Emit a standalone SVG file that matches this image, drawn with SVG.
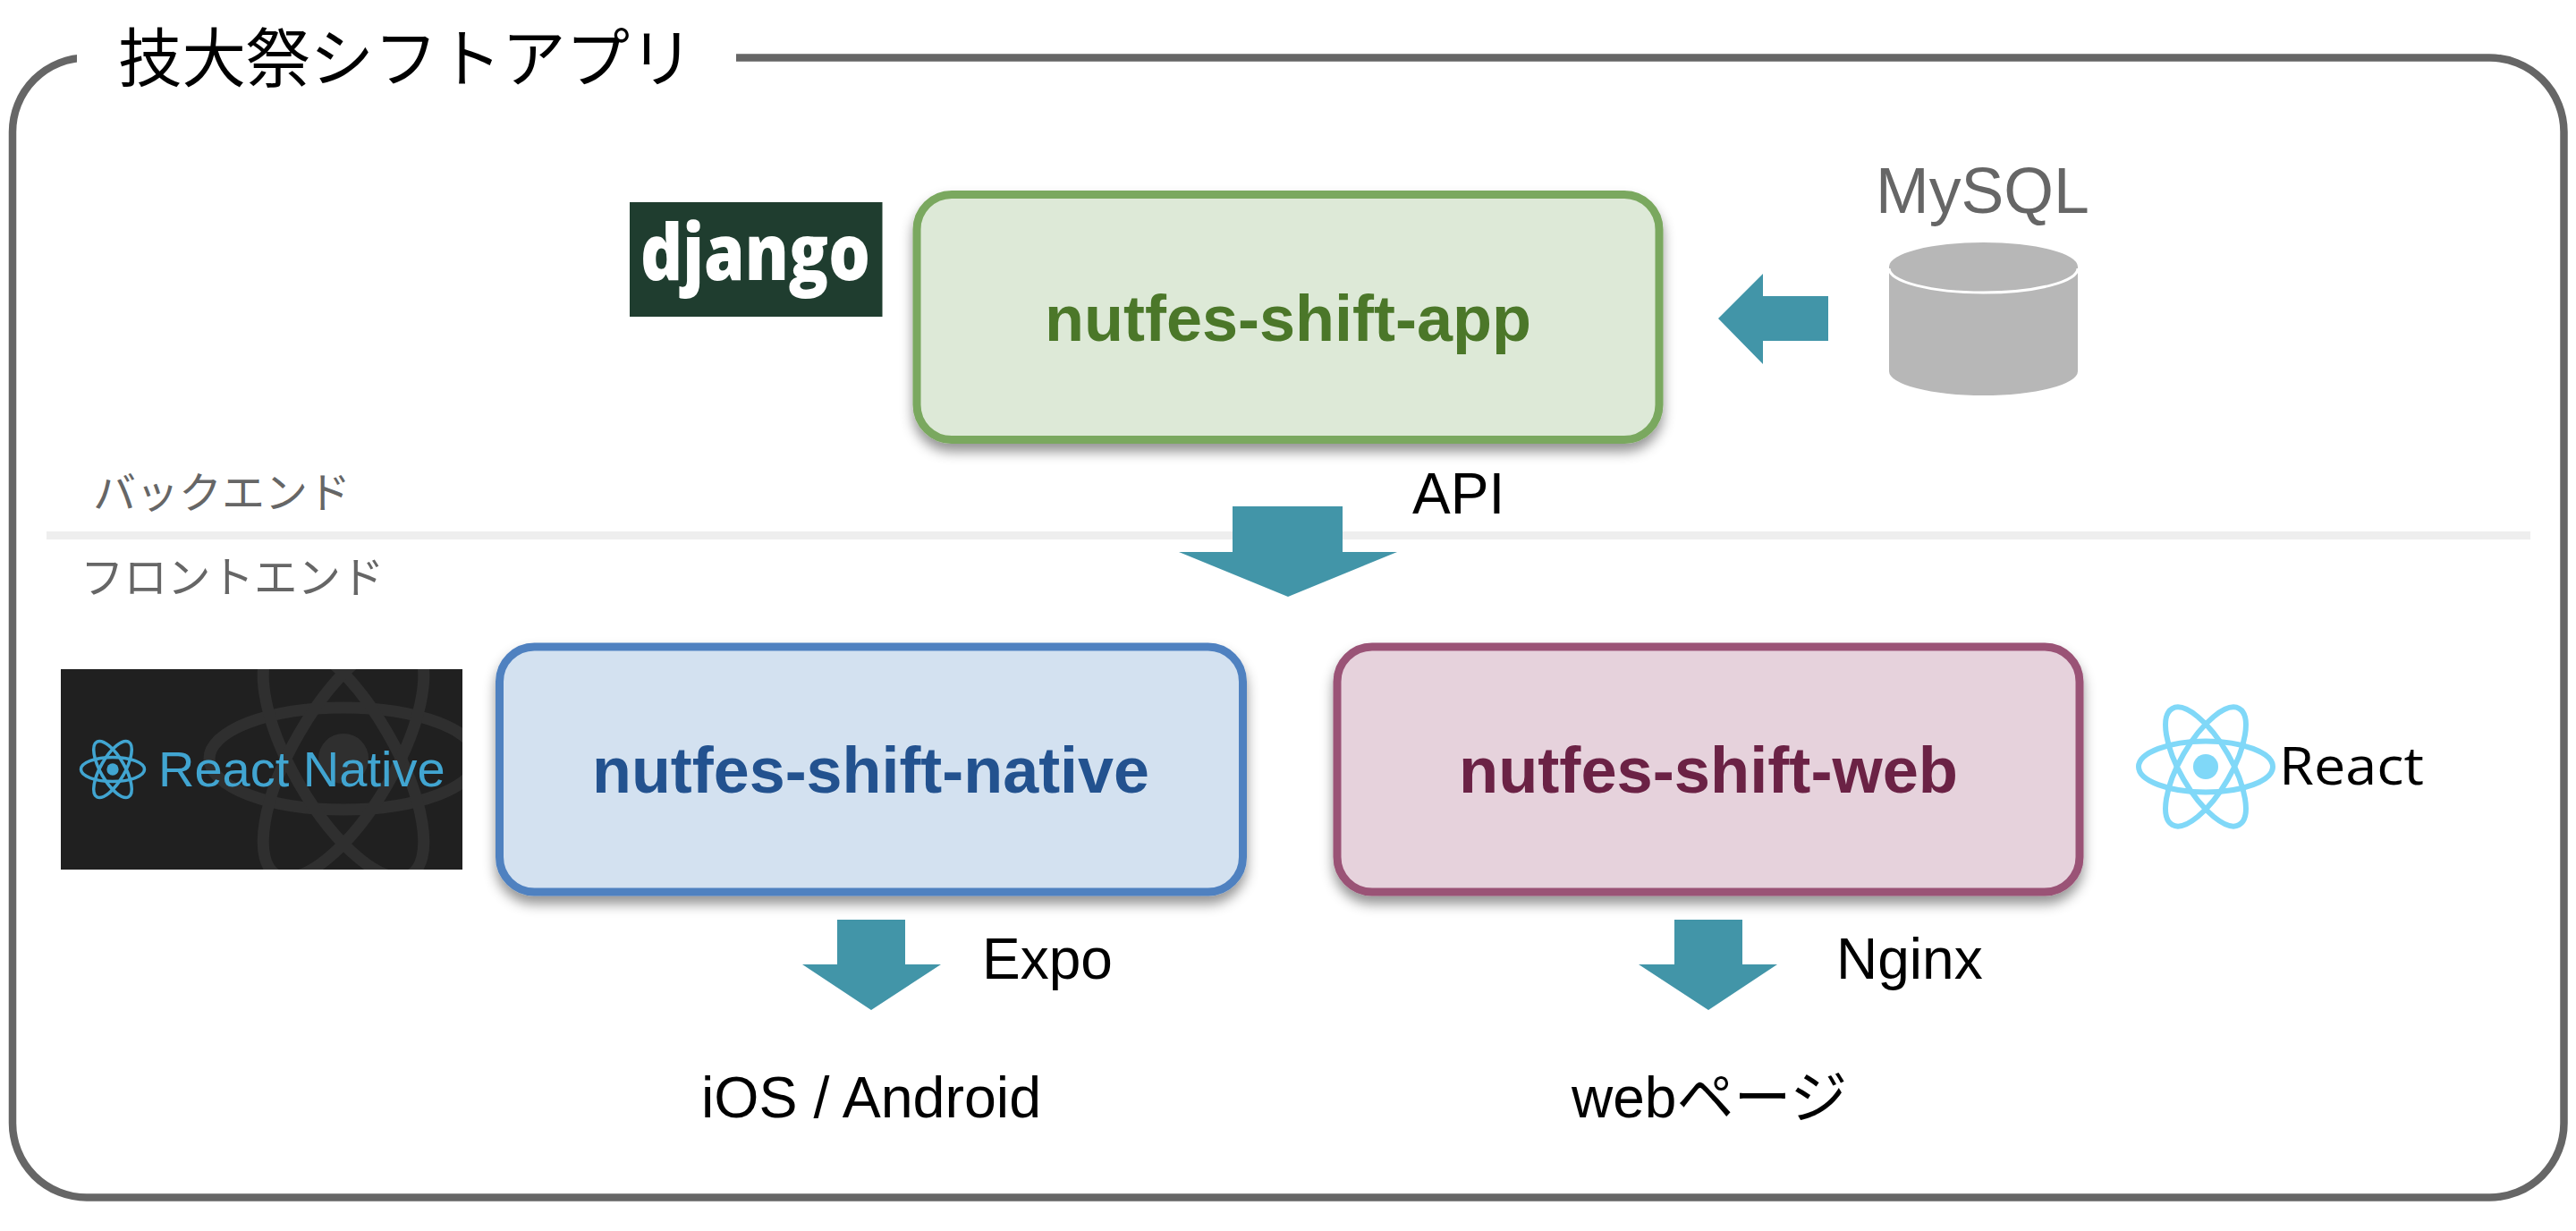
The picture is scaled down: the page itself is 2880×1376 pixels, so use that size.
<svg xmlns="http://www.w3.org/2000/svg" xmlns:xlink="http://www.w3.org/1999/xlink" width="2880" height="1376" viewBox="0 0 2880 1376">
<style>
.sans{font-family:"Liberation Sans",Arial,sans-serif}
.jp{font-family:"Noto Sans CJK JP","Noto Sans CJK SC",sans-serif}
.lbl{font-family:"Liberation Sans","Noto Sans CJK JP",sans-serif;font-size:64px;fill:#000}
.section{font-family:"Noto Sans CJK JP",sans-serif;font-size:48px;fill:#666;font-weight:400}
.box{stroke-width:9;filter:url(#shadow)}
.name{font-family:"Liberation Sans",Arial,sans-serif;font-weight:700;font-size:72px}
.arrow{fill:#4295a8}
.orbit{fill:none}
</style>
<defs>
<filter id="shadow" x="-10%" y="-15%" width="120%" height="135%">
<feDropShadow dx="0" dy="9" stdDeviation="7" flood-color="#000" flood-opacity="0.42"/>
</filter>
<clipPath id="rnclip"><rect x="68" y="748" width="449" height="224"/></clipPath>
<g id="orbits">
<ellipse class="orbit" rx="100" ry="38"/>
<ellipse class="orbit" rx="100" ry="38" transform="rotate(60)"/>
<ellipse class="orbit" rx="100" ry="38" transform="rotate(-60)"/>
<circle r="18.7" stroke="none"/>
</g>
</defs>
<rect width="2880" height="1376" fill="#fff"/>
<g id="frame">
<rect x="14" y="64.5" width="2852.5" height="1274" rx="83" ry="83" fill="none" stroke="#666" stroke-width="8.5"/>
<rect x="86" y="40" width="737" height="50" fill="#fff"/>
<text x="132" y="91" class="jp" font-size="71.5" font-weight="400" fill="#000">技大祭シフトアプリ</text>
</g>
<g id="divider">
<rect x="52" y="594" width="2777" height="9" fill="#eeeeee"/>
<text x="104" y="568" class="section">バックエンド</text>
<text x="90" y="663" class="section" style="font-size:48.5px">フロントエンド</text>
</g>
<g id="django-logo">
<rect x="704" y="226" width="282.5" height="128" fill="#1f3d2f"/>
<text x="716" y="313" font-family="'Open Sans',sans-serif" font-weight="800" font-size="86" fill="#fff" textLength="257" lengthAdjust="spacingAndGlyphs">django</text>
</g>
<g id="nutfes-shift-app">
<rect class="box" x="1025" y="217.5" width="830" height="274" rx="39" ry="39" fill="#dde9d7" stroke="#7aa85e"/>
<text class="name" x="1168" y="381" fill="#4b7729" textLength="544" lengthAdjust="spacingAndGlyphs">nutfes-shift-app</text>
</g>
<g id="mysql">
<text x="2097" y="238" class="sans" font-size="71.6" fill="#666">MySQL</text>
<path d="M2112 298V415A105.5 27 0 0 0 2323 415V298Z" fill="#b7b7b7"/>
<ellipse cx="2217.5" cy="298" rx="105.5" ry="27" fill="#b7b7b7"/>
<path d="M2112 300A105.5 27 0 0 0 2323 300" fill="none" stroke="#fff" stroke-width="3"/>
</g>
<g id="connectors">
<polygon class="arrow" points="2044,331 1971,331 1971,306 1921,356 1971,407 1971,381 2044,381"/>
<polygon class="arrow" points="1378,566 1501,566 1501,617 1562,617 1440,667 1318,617 1378,617"/>
<polygon class="arrow" points="936,1028 1012,1028 1012,1078 1052,1078 974,1129 897,1078 936,1078"/>
<polygon class="arrow" points="1872,1028 1948,1028 1948,1078 1987,1078 1910,1129 1832,1078 1872,1078"/>
<text class="lbl" x="1579" y="574">API</text>
<text class="lbl" x="1098" y="1094">Expo</text>
<text class="lbl" x="2053" y="1094">Nginx</text>
</g>
<g id="react-native-logo">
<rect x="68" y="748" width="449" height="224" fill="#202020"/>
<g clip-path="url(#rnclip)">
<use xlink:href="#orbits" href="#orbits" transform="translate(384 848) scale(1.5)" stroke="#2f2f2f" fill="#2f2f2f" stroke-width="8.7"/>
</g>
<use xlink:href="#orbits" href="#orbits" transform="translate(126 860) scale(0.355)" stroke="#41a5d1" fill="#41a5d1" stroke-width="10"/>
<text x="177" y="879" class="sans" font-size="56" fill="#41a5d1">React Native</text>
</g>
<g id="nutfes-shift-native">
<rect class="box" x="558.5" y="723" width="831" height="274" rx="39" ry="39" fill="#d3e1f0" stroke="#4f81c0"/>
<text class="name" x="662" y="886" fill="#23528f" textLength="623" lengthAdjust="spacingAndGlyphs">nutfes-shift-native</text>
</g>
<g id="nutfes-shift-web">
<rect class="box" x="1495" y="723" width="830" height="274" rx="39" ry="39" fill="#e6d2dc" stroke="#9a5276"/>
<text class="name" x="1631" y="886" fill="#6b2245" textLength="558" lengthAdjust="spacingAndGlyphs">nutfes-shift-web</text>
</g>
<g id="react-logo">
<use xlink:href="#orbits" href="#orbits" transform="translate(2466 857) scale(0.75)" stroke="#80d8f8" fill="#80d8f8" stroke-width="8"/>
<text x="2548" y="877" font-family="'Open Sans',sans-serif" font-size="59" fill="#000" textLength="162" lengthAdjust="spacingAndGlyphs">React</text>
</g>
<g id="ios-android"><text class="lbl" x="784" y="1249" style="font-size:64.5px">iOS / Android</text></g>
<g id="web-page"><text class="lbl" x="1757" y="1249">webページ</text></g>
</svg>
